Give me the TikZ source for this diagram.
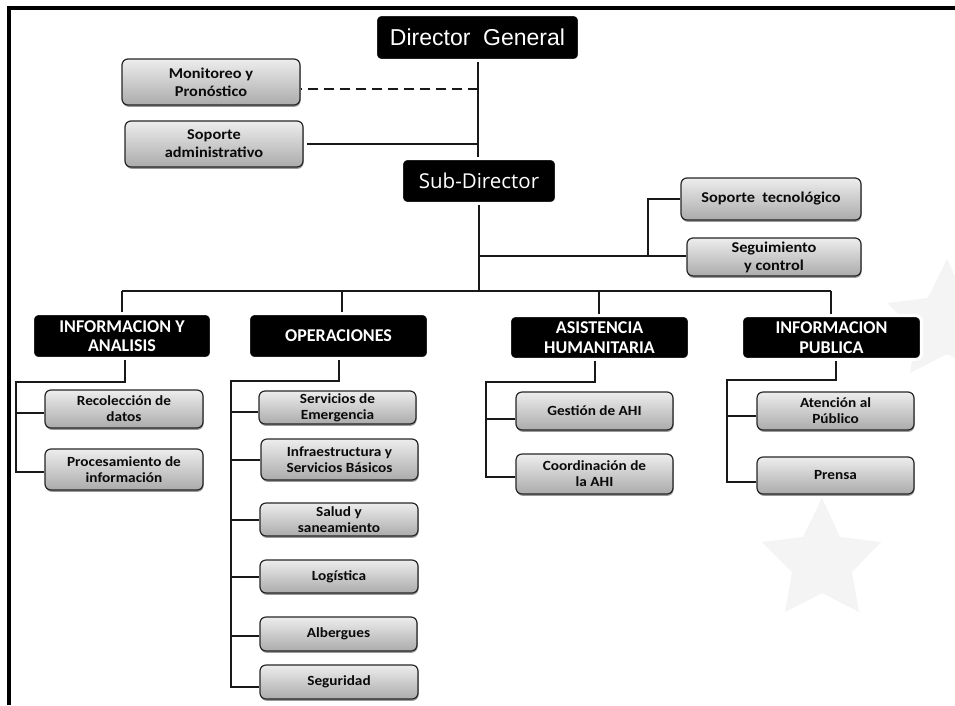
\documentclass[tikz,border=0pt]{standalone}
\usepackage{fontspec}
\setmainfont{Carlito}
\newfontfamily\leaffont[FakeStretch=1.09]{Carlito}
\newfontfamily\arialfont{Liberation Sans}
\newfontfamily\openfont{Open Sans}
\usetikzlibrary{shadows}
\definecolor{starcol}{gray}{0.955}
\definecolor{inkcol}{gray}{0.04}
\tikzset{
  leafbox/.style={rounded corners=6pt, draw=black!85, line width=1.2pt,
    top color=black!7, bottom color=black!33, inner sep=0pt, align=center,
    text=inkcol, font=\leaffont\bfseries\fontsize{14}{16}\selectfont,
    drop shadow={shadow xshift=0.6pt, shadow yshift=-1.8pt, opacity=0.4, fill=black}},
  staffbox/.style={leafbox, font=\leaffont\bfseries\fontsize{15}{18}\selectfont},
  headbox/.style={rounded corners=6pt, draw=white, line width=3.2pt, fill=black,
    inner sep=0pt, align=center, text=white,
    font=\bfseries\fontsize{18}{19.5}\selectfont,
    drop shadow={shadow xshift=0.8pt, shadow yshift=-1pt, opacity=0.22, fill=black}},
  link/.style={draw=black!90, line width=1.7pt},
  starshape/.style={fill=starcol, draw=none},
}
\begin{document}
\begin{tikzpicture}[x=1pt,y=-1pt]
\useasboundingbox (0,0) rectangle (955,705);
\fill[white] (0,0) rectangle (955,705);
% watermark stars
\begin{scope}
\clip (0,0) rectangle (955,705);
\foreach \dx/\dy in {0/0,125/-239}{
  \fill[starshape,shift={(\dx pt,-\dy pt)}] (822,498) -- (840,537) -- (881,542) -- (852,572) -- (859,612)
    -- (822,593) -- (785,612) -- (792,572) -- (762,542) -- (803,537) -- cycle;
}
\end{scope}
% frame
\coordinate (frameA) at (8.7,705);
\coordinate (frameB) at (8.7,8);
\coordinate (frameC) at (955,8);
\draw[line width=3.6pt,black] (frameA) -- (frameB) -- (frameC);
% head boxes
\node[headbox,font=\arialfont\fontsize{23}{26}\selectfont,minimum width=204pt,minimum height=46pt] (dg) at (477.5,37.5) {Director\ \ General};
\node[headbox,font=\openfont\fontsize{20.5}{22}\selectfont,minimum width=155pt,minimum height=45pt] (sd) at (479,181) {Sub-Director};
\node[headbox,minimum width=179pt,minimum height=45pt] (ia) at (122,336) {INFORMACION Y\\ANALISIS};
\node[headbox,minimum width=180pt,minimum height=45pt] (op) at (338.5,336) {OPERACIONES};
\node[headbox,minimum width=180pt,minimum height=44pt] (ah) at (599.5,337.5) {ASISTENCIA\\HUMANITARIA};
\node[headbox,minimum width=180pt,minimum height=44pt] (ip) at (831.5,337.5) {INFORMACION\\PUBLICA};
% staff boxes
\node[staffbox,minimum width=178pt,minimum height=46pt] (mon) at (211,82) {Monitoreo y\\Pron\'ostico};
\node[staffbox,minimum width=178pt,minimum height=46pt] (sad) at (214,144) {Soporte\\administrativo};
\node[staffbox,minimum width=180pt,minimum height=42pt] (stec) at (771,199) {Soporte\ \ tecnol\'ogico};
\node[staffbox,minimum width=174pt,minimum height=38pt] (seg) at (774,257) {Seguimiento\\y control};
% leaf boxes
\node[leafbox,minimum width=158pt,minimum height=38pt] (rec) at (124,409) {Recolecci\'on de\\datos};
\node[leafbox,minimum width=158pt,minimum height=41pt] (pro) at (124,469.5) {Procesamiento de\\informaci\'on};
\node[leafbox,minimum width=157pt,minimum height=33pt] (ser) at (337.5,407.5) {Servicios de\\Emergencia};
\node[leafbox,minimum width=157pt,minimum height=41pt] (inf) at (339.5,459.5) {Infraestructura y\\Servicios B\'asicos};
\node[leafbox,minimum width=158pt,minimum height=33pt] (sal) at (339,519.5) {Salud y\\saneamiento};
\node[leafbox,minimum width=158pt,minimum height=33pt] (log) at (339,576.5) {Log\'istica};
\node[leafbox,minimum width=157pt,minimum height=34pt] (alb) at (338.5,634) {Albergues};
\node[leafbox,minimum width=158pt,minimum height=34pt] (sgr) at (339,682) {Seguridad};
\node[leafbox,minimum width=157pt,minimum height=38pt] (ges) at (594.5,411) {Gesti\'on de AHI};
\node[leafbox,minimum width=157pt,minimum height=40pt] (coo) at (594.5,474) {Coordinaci\'on de\\la AHI};
\node[leafbox,minimum width=157pt,minimum height=38pt] (ate) at (835.5,411) {Atenci\'on al\\P\'ublico};
\node[leafbox,minimum width=157pt,minimum height=37pt] (pre) at (835.5,475.5) {Prensa};
% junctions
\coordinate (jmon) at (478,88.5);
\coordinate (jsad) at (478,144);
\coordinate (jdown) at (478,157);
\coordinate (jseg) at (479,256);
\coordinate (jtec) at (648,256);
\coordinate (jbus) at (479,291);
\coordinate (bia) at (122,291);
\coordinate (bop) at (342,291);
\coordinate (bah) at (599,291);
\coordinate (bip) at (831,291);
% elbows under the heads
\coordinate (dia) at (125,382);
\coordinate (dop) at (339,381);
\coordinate (dah) at (595,382);
\coordinate (dip) at (836,380);
% vertical rails
\coordinate (tia) at (16,382);
\coordinate (top) at (231,381);
\coordinate (tah) at (486,382);
\coordinate (tip) at (727,380);
% tick heights
\coordinate (krec) at (16,413);
\coordinate (kpro) at (16,472);
\coordinate (kser) at (231,412);
\coordinate (kinf) at (231,460);
\coordinate (ksal) at (231,520);
\coordinate (klog) at (231,577);
\coordinate (kalb) at (231,636);
\coordinate (ksgr) at (231,687);
\coordinate (kges) at (486,419);
\coordinate (kcoo) at (486,477);
\coordinate (kate) at (727,416);
\coordinate (kpre) at (727,482);
% connectors
\draw[link] (dg.south -| jdown) -- (jdown);
\draw[link,dash pattern=on 10pt off 6pt,line width=2pt] (jmon) -- (mon.east |- jmon);
\draw[link] ([xshift=3pt]sad.east |- jsad) -- (jsad);
\draw[link] (sd.south -| jbus) -- (jbus);
\draw[link] (jseg) -- (seg.west |- jseg);
\draw[link] (jtec) -- (jtec |- stec.west) -- (stec.west);
\draw[link] (bia) -- (bip);
\draw[link] (bia) -- (bia |- ia.north);
\draw[link] (bop) -- (bop |- op.north);
\draw[link] (bah) -- (bah |- ah.north);
\draw[link] (bip) -- (bip |- ip.north);
% Informacion y analisis
\draw[link] (ia.south -| dia) -- (dia) -- (tia) -- (kpro) -- (pro.west |- kpro);
\draw[link] (krec) -- (rec.west |- krec);
% Operaciones
\draw[link] (op.south -| dop) -- (dop) -- (top) -- (ksgr) -- (sgr.west |- ksgr);
\draw[link] (kser) -- (ser.west |- kser);
\draw[link] (kinf) -- (inf.west |- kinf);
\draw[link] (ksal) -- (sal.west |- ksal);
\draw[link] (klog) -- (log.west |- klog);
\draw[link] (kalb) -- (alb.west |- kalb);
% Asistencia
\draw[link] (ah.south -| dah) -- (dah) -- (tah) -- (kcoo) -- (coo.west |- kcoo);
\draw[link] (kges) -- (ges.west |- kges);
% Informacion publica
\draw[link] (ip.south -| dip) -- (dip) -- (tip) -- (kpre) -- (pre.west |- kpre);
\draw[link] (kate) -- (ate.west |- kate);
\end{tikzpicture}
\end{document}
